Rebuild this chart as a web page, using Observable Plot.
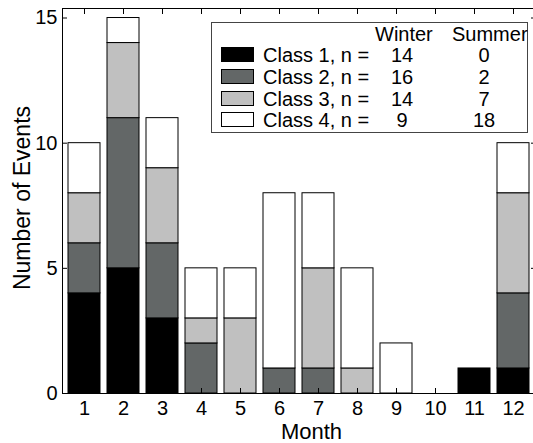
<!DOCTYPE html>
<html>
<head>
<meta charset="utf-8">
<script src="https://cdn.jsdelivr.net/npm/d3@7"></script>
<script src="https://cdn.jsdelivr.net/npm/@observablehq/plot@0.6"></script>
<style>
  html, body { margin: 0; padding: 0; background: white; }
  #wrap { position: relative; width: 533px; height: 443px; overflow: hidden; font-family: "Liberation Sans", Arial, sans-serif; }
  #legend { position: absolute; left: 211px; top: 22px; width: 315px; height: 109px; border: 1px solid #444; background: white; font-size: 20px; color: black; }
  #legend div { position: absolute; white-space: nowrap; line-height: 20px; }
  #legend .sw { width: 31px; height: 13px; border: 1px solid black; }
</style>
</head>
<body>
<div id="wrap"></div>
<script>
const months = [1, 2, 3, 4, 5, 6, 7, 8, 9, 10, 11, 12];
const classes = ["Class 1", "Class 2", "Class 3", "Class 4"];
const class1 = [4, 5, 3, 0, 0, 0, 0, 0, 0, 0, 1, 1];
const class2 = [2, 6, 3, 2, 0, 1, 1, 0, 0, 0, 0, 3];
const class3 = [2, 3, 3, 1, 3, 0, 4, 1, 0, 0, 0, 4];
const class4 = [2, 1, 2, 2, 2, 7, 3, 4, 2, 0, 0, 2];
const winterN = [14, 16, 14, 9];
const summerN = [0, 2, 7, 18];
const colors = ["#000000", "#636767", "#c0c0c0", "#ffffff"];
const yTicks = [0, 5, 10, 15];

const series = [class1, class2, class3, class4];
const data = [];
classes.forEach((c, ci) => {
  months.forEach((m, mi) => {
    if (series[ci][mi] > 0) data.push({month: m, cls: c, count: series[ci][mi]});
  });
});

const font = '"Liberation Sans", Arial, sans-serif';

const chart = Plot.plot({
  width: 533,
  height: 443,
  marginLeft: 62,
  marginTop: 8,
  marginBottom: 50,
  marginRight: -2,
  style: {fontFamily: font, fontSize: "20px", color: "black", background: "white", overflow: "hidden"},
  x: {type: "band", domain: months, paddingInner: 0.18, paddingOuter: 0.09, align: 0.5},
  y: {domain: [0, 15.38]},
  color: {domain: classes, range: colors},
  marks: [
    Plot.barY(data, {x: "month", y: "count", fill: "cls", stroke: "black", strokeWidth: 1}),
    Plot.frame({stroke: "black"}),
    Plot.axisX({anchor: "bottom", tickSize: -5, tickPadding: 12, label: null, fontSize: 20}),
    Plot.axisX({anchor: "top", tickSize: -5, tickFormat: () => "", label: null}),
    Plot.axisY({anchor: "left", ticks: yTicks, tickSize: -5, tickPadding: 10, label: null, fontSize: 20}),
    Plot.axisY({anchor: "right", ticks: yTicks, tickSize: -5, tickFormat: () => "", label: null}),
    Plot.text(["Number of Events"], {frameAnchor: "left", textAnchor: "middle", lineAnchor: "middle", rotate: -90, dx: -40, dy: -3, fontSize: 23}),
    Plot.text(["Month"], {frameAnchor: "bottom", textAnchor: "middle", lineAnchor: "middle", dx: 12.5, dy: 38, fontSize: 22})
  ]
});

const wrap = document.getElementById("wrap");
wrap.appendChild(chart);

const legend = document.createElement("div");
legend.id = "legend";
let html = '';
html += '<div style="left:163px;top:1px;">Winter</div>';
html += '<div style="left:240px;top:1px;">Summer</div>';
const rowTop = [24, 46, 68, 89];
classes.forEach((c, i) => {
  const t = rowTop[i];
  html += `<div class="sw" style="left:9px;top:${t}px;background:${colors[i]};"></div>`;
  html += `<div style="left:51px;top:${t - 2}px;">${c}, n =</div>`;
  html += `<div style="left:170px;width:40px;text-align:center;top:${t - 2}px;">${winterN[i]}</div>`;
  html += `<div style="left:252px;width:40px;text-align:center;top:${t - 2}px;">${summerN[i]}</div>`;
});
legend.innerHTML = html;
wrap.appendChild(legend);
</script>
</body>
</html>
